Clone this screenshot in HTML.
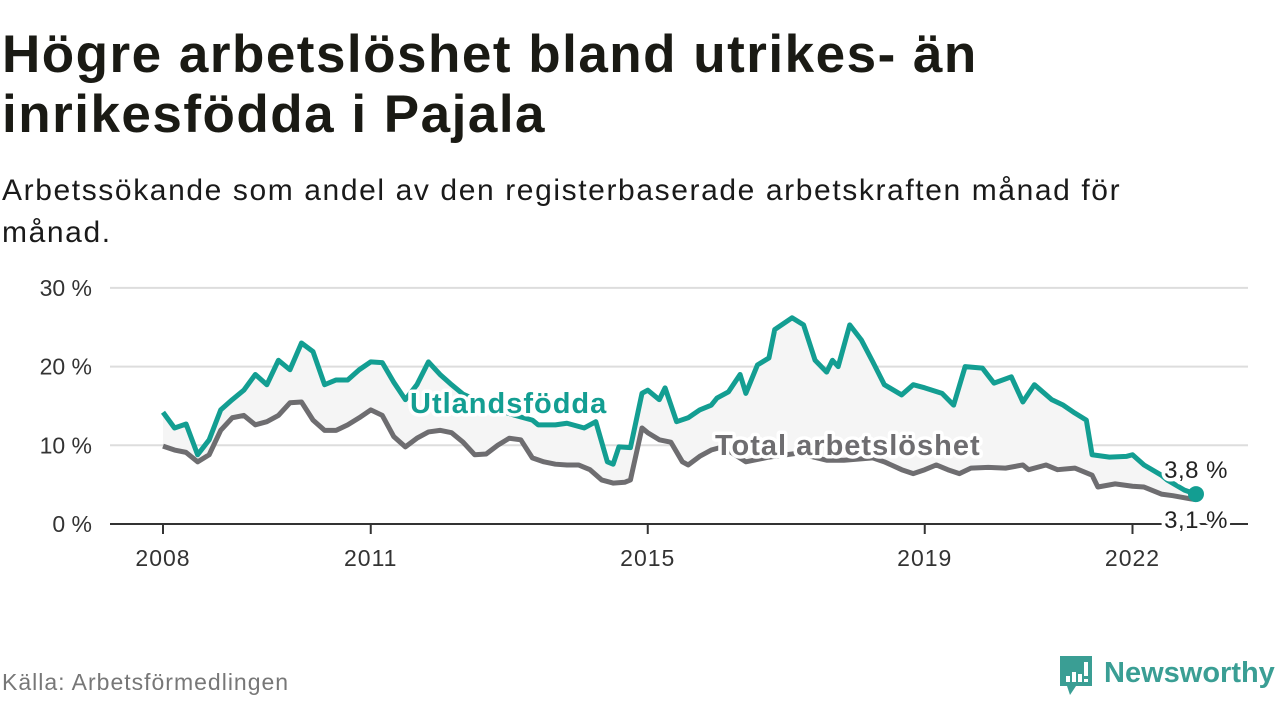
<!DOCTYPE html>
<html><head><meta charset="utf-8"><style>
body{margin:0;width:1280px;height:720px;background:#fff;font-family:"Liberation Sans","DejaVu Sans",sans-serif;overflow:hidden;position:relative}
h1{position:absolute;left:2px;top:25px;margin:0;font-size:53px;line-height:60px;font-weight:bold;color:#1a1a14;letter-spacing:1.5px}
.sub{position:absolute;left:2px;top:170px;font-size:30px;line-height:42px;color:#1a1a1a;width:1250px;letter-spacing:1.6px}
.src{position:absolute;left:2px;top:669px;font-size:23px;color:#777;letter-spacing:1px}
svg{position:absolute;left:0;top:0}
</style></head><body>
<h1>Högre arbetslöshet bland utrikes- än<br>inrikesfödda i Pajala</h1>
<div class="sub">Arbetssökande som andel av den registerbaserade arbetskraften månad för<br>månad.</div>
<div class="src">Källa: Arbetsförmedlingen</div>
<svg width="1280" height="720" id="chart">
<g>
<path d="M1060 656h32v30h-16l-6 9-3-9h-7z" fill="#3a9e94"/>
<rect x="1066" y="676" width="4" height="6" fill="#fff"/><rect x="1072" y="672" width="4" height="10" fill="#fff"/><rect x="1078" y="674" width="4" height="8" fill="#fff"/><rect x="1084" y="662" width="4" height="14" fill="#fff"/><rect x="1084" y="679" width="4" height="3" fill="#fff"/>
<text x="1104" y="682" font-size="29" font-weight="bold" fill="#3a9e94" font-family="Liberation Sans, sans-serif">Newsworthy</text>
</g>
</svg>
<script>
const tealMonths=[0,2,4,6,8,10,12,14,16,18,20,22,24,26,28,30,32,34,36,38,40,42,44,46,48,50,52,55,58,61,64,65,68,70,73,75,77,78,79,81,83,84,86,87,89,91,93,95,96,98,100,101,103,105,106,109,111,113,115,116,117,119,121,123,125,128,130,132,135,137,139,142,144,147,149,151,154,156,158,160,161,164,167,168,170,173,174,177,179];
const tealValues=[14.2,12.2,12.7,8.8,10.7,14.5,15.8,17,19,17.7,20.8,19.6,23,21.9,17.7,18.3,18.3,19.6,20.6,20.5,18,15.8,17.7,20.6,19,17.7,16.5,15.5,14.5,13.8,13.2,12.6,12.6,12.8,12.2,13,7.9,7.6,9.8,9.7,16.6,17,15.8,17.3,13,13.5,14.5,15.1,16,16.8,19,16.6,20.2,21.1,24.7,26.2,25.3,20.8,19.3,20.8,20,25.3,23.4,20.6,17.7,16.4,17.7,17.3,16.6,15.1,20,19.8,17.9,18.7,15.5,17.7,15.8,15.1,14.1,13.2,8.8,8.5,8.6,8.8,7.5,6.2,5.6,4.3,3.8];
const totalMonths=[0,2,4,6,8,10,12,14,16,18,20,22,24,26,28,30,32,34,36,38,40,42,44,46,48,50,52,54,56,58,60,62,64,66,68,70,72,74,76,78,80,81,83,84,86,88,90,91,93,95,97,101,105,110,115,118,123,125,128,130,132,134,136,138,140,143,146,149,150,153,155,158,161,162,165,168,170,173,175,178,179];
const totalValues=[9.9,9.4,9.1,7.9,8.8,11.9,13.5,13.8,12.6,13,13.8,15.4,15.5,13.2,11.9,11.9,12.6,13.5,14.5,13.8,11.1,9.8,10.9,11.7,11.9,11.6,10.4,8.8,8.9,10,10.9,10.7,8.4,7.9,7.6,7.5,7.5,6.9,5.6,5.2,5.3,5.6,12.2,11.6,10.7,10.4,7.9,7.5,8.6,9.4,9.8,7.9,8.5,9.0,8.1,8.1,8.4,7.9,6.9,6.4,6.9,7.5,6.9,6.4,7.1,7.2,7.1,7.5,6.9,7.5,6.9,7.1,6.2,4.7,5.1,4.8,4.7,3.8,3.6,3.2,3.1];
const yTicks=[0,10,20,30];
const yTickLabels=["0 %","10 %","20 %","30 %"];
const xTickYears=[2008,2011,2015,2019,2022];
const X0=163,PXM=69.25/12,Y0=524,PXV=7.87;
const xm=m=>X0+m*PXM, xy=y=>X0+(y-2008)*69.25, yv=v=>Y0-v*PXV;
const svg=document.getElementById('chart');
const NS='http://www.w3.org/2000/svg';
function mk(t,a){const e=document.createElementNS(NS,t);for(const k in a)e.setAttribute(k,a[k]);svg.appendChild(e);return e;}
yTicks.forEach((v,i)=>{
 if(v>0){const g=mk('line',{x1:110,x2:1248,y1:yv(v),y2:yv(v),stroke:'#ddd','stroke-width':2});
 
 }
 const t=mk('text',{x:92,y:yv(v)+8,'text-anchor':'end','font-size':23,fill:'#333'});t.textContent=yTickLabels[i];
 
 
});
let pts=tealMonths.map((m,i)=>xm(m)+','+yv(tealValues[i]));
let pts2=totalMonths.map((m,i)=>xm(m)+','+yv(totalValues[i])).reverse();
const area=mk('polygon',{points:pts.concat(pts2).join(' '),fill:'#f5f5f5'});


const ax=mk('line',{x1:110,x2:1248,y1:Y0,y2:Y0,stroke:'#333','stroke-width':2});


xTickYears.forEach(y=>{
 const l=mk('line',{x1:xy(y),x2:xy(y),y1:Y0,y2:Y0+10,stroke:'#333','stroke-width':2});
 
 
 const t=mk('text',{x:xy(y),y:Y0+42,'text-anchor':'middle','font-size':23,'letter-spacing':1,fill:'#333'});t.textContent=y;
 
 
});
const lt=mk('polyline',{points:totalMonths.map((m,i)=>xm(m)+','+yv(totalValues[i])).join(' '),fill:'none',stroke:'#6e6d70','stroke-width':5,'stroke-linejoin':'round'});


const lu=mk('polyline',{points:pts.join(' '),fill:'none',stroke:'#139e92','stroke-width':5,'stroke-linejoin':'round'});


function lbl(txt,x,y,col,size,bold,name,anchor,ls){
 const a={x:x,y:y,'font-size':size,fill:col,stroke:'#fff','stroke-width':7,'stroke-linejoin':'round','paint-order':'stroke','text-anchor':anchor||'start','letter-spacing':ls||0};
 if(bold)a['font-weight']='bold';
 const t=mk('text',a);t.textContent=txt;
 
 
}
lbl('Utlandsfödda',410,413,'#139e92',29,true,'utlandsfodda-label','start',1);
lbl('Total arbetslöshet',715,455,'#6e6d70',29,true,'total-label','start',1);
const d=mk('circle',{cx:xm(179),cy:yv(3.8),r:8,fill:'#139e92'});


lbl('3,8 %',1228,478,'#222',24,false,'utlandsfodda-end-value','end',0.5);
lbl('3,1 %',1228,528,'#222',24,false,'total-end-value','end',0.5);
</script>
</body></html>
